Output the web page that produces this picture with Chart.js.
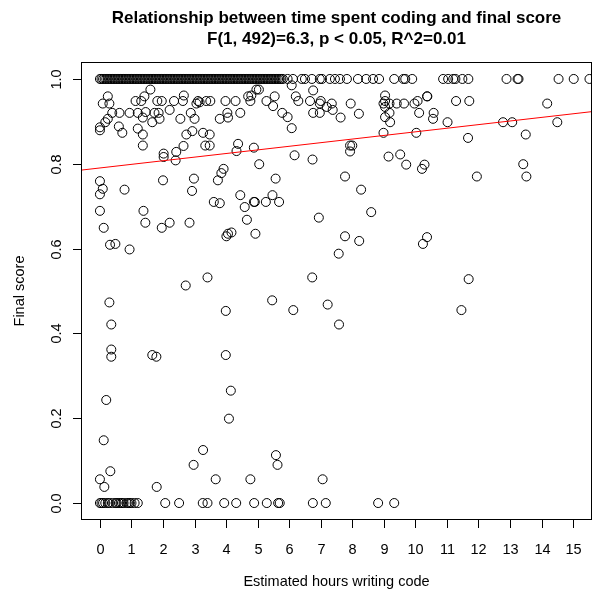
<!DOCTYPE html>
<html>
<head>
<meta charset="utf-8">
<script src="https://cdn.jsdelivr.net/npm/chart.js@4.4.1/dist/chart.umd.min.js"></script>
<style>
  html, body { margin: 0; padding: 0; background: #fff; }
  #wrap { width: 594px; height: 593px; }
</style>
</head>
<body>
<div id="wrap"><canvas id="myChart" width="594" height="593"></canvas></div>
<script>
var titleLines = ["Relationship between time spent coding and final score",
                  "F(1, 492)=6.3, p < 0.05, R^2=0.01"];
var xLabel = "Estimated hours writing code";
var yLabel = "Final score";
var xTicks = [0, 1, 2, 3, 4, 5, 6, 7, 8, 9, 10, 11, 12, 13, 14, 15];
var yTicks = [0, 0.2, 0.4, 0.6, 0.8, 1.0];
var yTickLabels = ["0.0", "0.2", "0.4", "0.6", "0.8", "1.0"];

// students with a perfect score
var fullScoreHours = [0, 0.05, 0.1, 0.15, 0.2, 0.25, 0.3, 0.35, 0.4, 0.45, 0.5, 0.55, 0.6, 0.65, 0.7, 0.75,
  0.8, 0.85, 0.9, 0.95, 1, 1.05, 1.1, 1.15, 1.2, 1.25, 1.3, 1.35, 1.4, 1.45, 1.5, 1.55, 1.6, 1.65, 1.7,
  1.75, 1.8, 1.85, 1.9, 1.95, 2, 2.05, 2.1, 2.15, 2.2, 2.25, 2.3, 2.35, 2.4, 2.45, 2.5, 2.55, 2.6, 2.65,
  2.7, 2.75, 2.8, 2.85, 2.9, 2.95, 3, 3.05, 3.1, 3.15, 3.2, 3.25, 3.3, 3.35, 3.4, 3.45, 3.5, 3.55, 3.6,
  3.65, 3.7, 3.75, 3.8, 3.85, 3.9, 3.95, 4, 4.05, 4.1, 4.15, 4.2, 4.25, 4.3, 4.35, 4.4, 4.45, 4.5, 4.55,
  4.6, 4.65, 4.7, 4.75, 4.8, 4.85, 4.9, 4.95, 5, 5.05, 5.1, 5.15, 5.2, 5.25, 5.3, 5.35, 5.4, 5.45, 5.5,
  5.55, 5.6, 5.65, 5.7, 5.75, 5.8, 5.95, 6.12, 6.4, 6.5, 6.72, 6.97, 7.04, 7.29, 7.45, 7.61, 7.83, 8.18,
  8.44, 8.66, 8.85, 9.33, 9.62, 9.68, 9.9, 10.88, 11.04, 11.2, 11.27, 11.49, 11.68, 12.89, 13.24, 13.27,
  14.54, 15.02, 15.52];

// students who scored zero
var zeroScoreHours = [0, 0.05, 0.1, 0.17, 0.25, 0.3, 0.4, 0.5, 0.53, 0.6, 0.65, 0.7, 0.75, 0.85, 0.9, 0.95,
  1, 1.1, 1.2, 2.07, 2.51, 3.26, 3.41, 3.94, 4.32, 4.89, 5.29, 5.65, 5.7, 6.75, 7.16, 8.82, 9.33];

// everyone else
var otherHours = [0.25, 0.09, 0.30, 0.39, 0.17, 0.25, 0, 0, 0.62, 0.60, 0.71, 0.94, 1.13, 1.31, 1.41, 1.60,
  1.20, 1.36, 1.45, 1.20, 1.36, 1.36, 1.66, 1.73, 1.86, 1.82, 1.96, 1.89, 2.21, 2.35, 2.66, 2.63, 2.55,
  2.88, 3.00, 3.11, 3.06, 3.16, 3.37, 3.50, 3.27, 3.48, 2.93, 2.74, 3.34, 3.48, 2.65, 2.42, 2.40, 2.02,
  2.02, 3.98, 4.30, 4.04, 4.06, 3.80, 4.45, 4.38, 4.33, 4.88, 4.70, 4.80, 4.77, 4.96, 5.05, 0, 0.09, 0,
  0.78, 2.00, 2.98, 2.92, 3.92, 3.85, 3.74, 4.45, 3.61, 3.80, 4.59, 4.88, 0, 1.38, 0.12, 1.44, 1.96, 2.21,
  2.84, 0.32, 0.49, 0.94, 4.01, 4.06, 4.17, 4.93, 4.66, 3.41, 2.72, 0.30, 3.99, 0.36, 0.36, 0.36, 1.66,
  1.79, 3.99, 0.20, 4.15, 4.09, 0.12, 3.27, 2.97, 0.33, 0, 0.14, 1.80, 3.67, 4.77, 5.58, 5.63, 7.06,
  5.26, 5.68, 6.94, 8.60, 7.77, 8.22, 7.57, 10.24, 10.37, 6.73, 5.46, 6.13, 7.22, 7.58, 11.69, 11.46,
  5.04, 5.28, 5.49, 5.54, 6.08, 6.21, 6.29, 6.66, 6.76, 7.00, 6.97, 7.35, 7.38, 7.19, 6.76, 6.97, 5.78,
  5.95, 6.08, 7.63, 7.95, 8.21, 9.04, 9.04, 8.99, 9.04, 9.18, 9.41, 9.64, 9.18, 9.04, 9.20, 9.97, 10.07,
  10.37, 10.12, 8.99, 10.03, 7.93, 8.00, 7.93, 6.17, 6.74, 5.57, 7.77, 8.28, 9.15, 9.52, 9.71, 10.29,
  10.21, 5.47, 10.38, 10.58, 10.56, 11.02, 11.29, 11.71, 11.67, 12.78, 13.07, 13.50, 14.18, 14.50, 13.42,
  13.52, 11.95, 4.91];
var otherScores = [0.959, 0.942, 0.942, 0.920, 0.898, 0.906, 0.886, 0.879, 0.920, 0.888, 0.873, 0.920,
  0.948, 0.948, 0.959, 0.975, 0.920, 0.909, 0.922, 0.883, 0.869, 0.843, 0.898, 0.920, 0.920, 0.948, 0.948,
  0.906, 0.927, 0.948, 0.961, 0.948, 0.906, 0.920, 0.906, 0.948, 0.942, 0.945, 0.948, 0.948, 0.873, 0.869,
  0.877, 0.869, 0.843, 0.843, 0.842, 0.828, 0.808, 0.824, 0.816, 0.948, 0.948, 0.920, 0.909, 0.906, 0.920,
  0.847, 0.830, 0.838, 0.959, 0.961, 0.948, 0.975, 0.799, 0.759, 0.741, 0.728, 0.739, 0.761, 0.765, 0.736,
  0.788, 0.778, 0.761, 0.726, 0.710, 0.707, 0.698, 0.710, 0.689, 0.689, 0.649, 0.661, 0.649, 0.661, 0.661,
  0.609, 0.611, 0.598, 0.629, 0.635, 0.638, 0.635, 0.668, 0.532, 0.513, 0.473, 0.453, 0.421, 0.362, 0.345,
  0.349, 0.345, 0.349, 0.243, 0.265, 0.199, 0.148, 0.125, 0.090, 0.075, 0.056, 0.038, 0.038, 0.056, 0.056,
  0.113, 0.090, 0.056, 0.710, 0.710, 0.673, 0.686, 0.629, 0.618, 0.588, 0.611, 0.627, 0.532, 0.478, 0.455,
  0.468, 0.421, 0.528, 0.455, 0.975, 0.948, 0.936, 0.959, 0.985, 0.959, 0.948, 0.948, 0.973, 0.948, 0.942,
  0.942, 0.927, 0.934, 0.920, 0.920, 0.920, 0.910, 0.884, 0.909, 0.942, 0.918, 0.961, 0.948, 0.942, 0.934,
  0.942, 0.942, 0.942, 0.920, 0.910, 0.898, 0.942, 0.948, 0.959, 0.920, 0.873, 0.873, 0.843, 0.843, 0.829,
  0.820, 0.810, 0.765, 0.770, 0.739, 0.817, 0.822, 0.798, 0.798, 0.788, 0.726, 0.959, 0.920, 0.906, 0.898,
  0.948, 0.948, 0.861, 0.898, 0.898, 0.869, 0.942, 0.898, 0.799, 0.770, 0.770, 0.710];

// fitted regression line, end points at the plot edges
var fitHours = [-0.6, 15.6];
var fitScores = [0.785, 0.923];

var xMin = -0.6, xMax = 15.6, yMin = -0.04, yMax = 1.04;

var points = [];
fullScoreHours.forEach(function (h) { points.push({ x: h, y: 1 }); });
zeroScoreHours.forEach(function (h) { points.push({ x: h, y: 0 }); });
otherHours.forEach(function (h, i) { points.push({ x: h, y: otherScores[i] }); });

var fitLine = fitHours.map(function (h, i) { return { x: h, y: fitScores[i] }; });

var fontName = "'Liberation Sans', Arial, Helvetica, sans-serif";

// R style frame, axes and labels
var rAxes = {
  id: 'rAxes',
  afterDraw: function (chart) {
    var ctx = chart.ctx;
    var a = chart.chartArea;
    var xs = chart.scales.x, ys = chart.scales.y;
    ctx.save();
    ctx.strokeStyle = '#000';
    ctx.lineWidth = 1;
    ctx.strokeRect(Math.round(a.left) + 0.5, Math.round(a.top) + 0.5,
                   Math.round(a.right - a.left) - 1, Math.round(a.bottom - a.top) - 1);

    ctx.fillStyle = '#000';
    ctx.font = '14.5px ' + fontName;
    ctx.textAlign = 'center';
    ctx.textBaseline = 'middle';
    xTicks.forEach(function (v) {
      var px = Math.round(xs.getPixelForValue(v)) + 0.5;
      ctx.beginPath();
      ctx.moveTo(px, a.bottom);
      ctx.lineTo(px, a.bottom + 8);
      ctx.stroke();
      ctx.fillText(String(v), px, a.bottom + 30);
    });

    yTicks.forEach(function (v, i) {
      var py = Math.round(ys.getPixelForValue(v)) + 0.5;
      ctx.beginPath();
      ctx.moveTo(a.left, py);
      ctx.lineTo(a.left - 8, py);
      ctx.stroke();
      ctx.save();
      ctx.translate(a.left - 24, py);
      ctx.rotate(-Math.PI / 2);
      ctx.fillText(yTickLabels[i], 0, 0);
      ctx.restore();
    });

    ctx.fillText(xLabel, (a.left + a.right) / 2, 582);
    ctx.save();
    ctx.translate(20, (a.top + a.bottom) / 2);
    ctx.rotate(-Math.PI / 2);
    ctx.fillText(yLabel, 0, 0);
    ctx.restore();

    ctx.font = 'bold 17px ' + fontName;
    ctx.fillText(titleLines[0], (a.left + a.right) / 2, 18);
    ctx.fillText(titleLines[1], (a.left + a.right) / 2, 39);
    ctx.restore();
  }
};

var ctx = document.getElementById('myChart').getContext('2d');
var myChart = new Chart(ctx, {
  type: 'scatter',
  data: {
    datasets: [{
      type: 'line',
      label: 'fit',
      data: fitLine,
      borderColor: '#ff0000',
      borderWidth: 1,
      pointRadius: 0,
      fill: false
    }, {
      label: 'students',
      data: points,
      pointStyle: 'circle',
      pointRadius: 4.5,
      pointBorderWidth: 1,
      borderColor: '#000',
      backgroundColor: 'rgba(0,0,0,0)',
      pointBackgroundColor: 'rgba(0,0,0,0)'
    }]
  },
  options: {
    responsive: false,
    animation: false,
    devicePixelRatio: 1,
    layout: { autoPadding: false, padding: { left: 81, right: 2, top: 62, bottom: 73 } },
    plugins: { legend: { display: false }, tooltip: { enabled: false }, title: { display: false } },
    scales: {
      x: { type: 'linear', min: xMin, max: xMax, display: false },
      y: { type: 'linear', min: yMin, max: yMax, display: false }
    }
  },
  plugins: [rAxes]
});
</script>
</body>
</html>
